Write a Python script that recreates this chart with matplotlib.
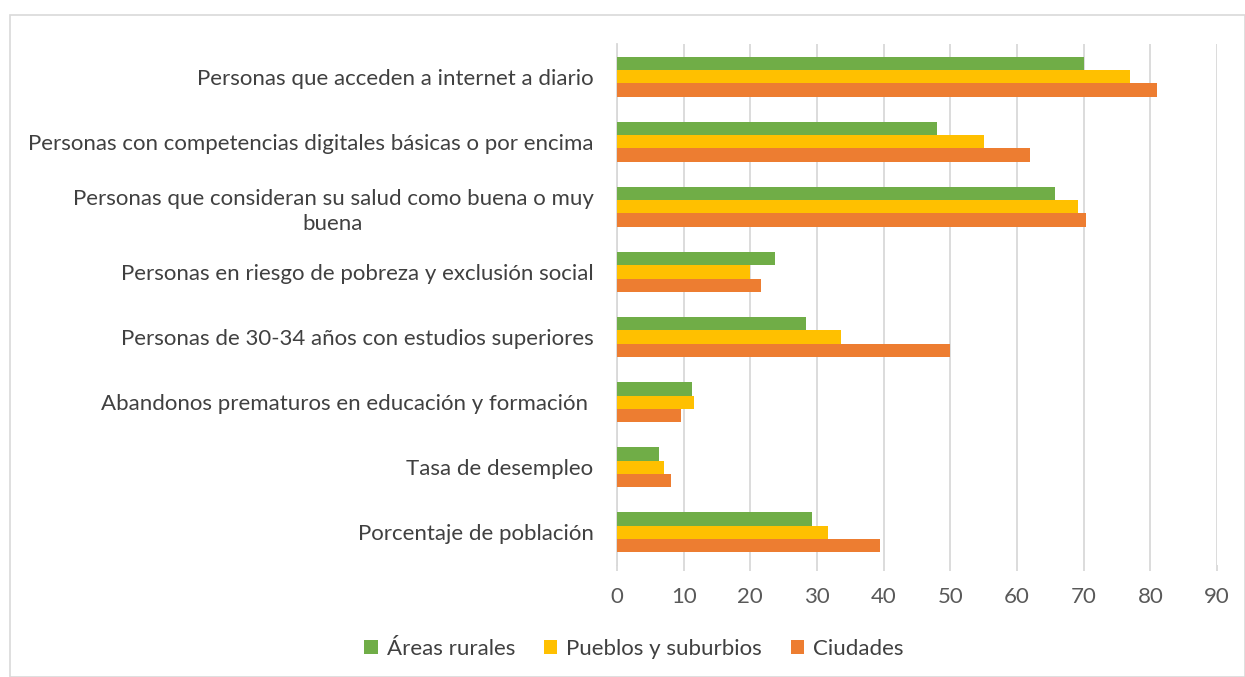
import numpy as np
import matplotlib.pyplot as plt
from matplotlib.patches import Rectangle

plt.rcParams['font.family'] = ['Lato', 'DejaVu Sans']

categories = [
    "Personas que acceden a internet a diario",
    "Personas con competencias digitales básicas o por encima",
    "Personas que consideran su salud como buena o muy\nbuena",
    "Personas en riesgo de pobreza y exclusión social",
    "Personas de 30-34 años con estudios superiores",
    "Abandonos prematuros en educación y formación ",
    "Tasa de desempleo",
    "Porcentaje de población",
]
rurales = [70, 48, 65.7, 23.7, 28.4, 11.2, 6.3, 29.2]
pueblos = [77, 55, 69.2, 20, 33.6, 11.5, 7.1, 31.7]
ciudades = [81, 62, 70.3, 21.6, 50, 9.6, 8.1, 39.4]

series = [("Áreas rurales", rurales, "#70AD47"),
          ("Pueblos y suburbios", pueblos, "#FFC000"),
          ("Ciudades", ciudades, "#ED7D31")]

fig = plt.figure(figsize=(12.45, 6.77), dpi=100)
fig.patches.append(Rectangle((10 / 1245, 0), 1 - 10 / 1245, 1 - 15 / 677,
                             transform=fig.transFigure, fill=False,
                             edgecolor="#d9d9d9", linewidth=1.2))
ax = fig.add_axes([617 / 1245, 112 / 677, 600 / 1245, 521 / 677])

y = np.arange(len(categories))
h = 0.205
for i, (name, vals, col) in enumerate(series):
    ax.barh(y + (i - 1) * h, vals, height=h, color=col, label=name, zorder=3)

ax.set_xlim(0, 90)
ax.set_ylim(len(categories) - 0.5, -0.5)
ax.set_xticks(np.arange(0, 91, 10))
ax.set_yticks(y)
ax.set_yticklabels(categories, multialignment="center", linespacing=1.3)
ax.xaxis.grid(True, color="#d9d9d9", linewidth=1.3, zorder=0)
for s in ["top", "right", "bottom"]:
    ax.spines[s].set_visible(False)
ax.spines["left"].set_color("#d9d9d9")
ax.spines["left"].set_linewidth(1.3)
ax.tick_params(axis="y", length=0, pad=17, labelsize=16, labelcolor="#404040")
ax.tick_params(axis="x", length=4, color="#d9d9d9", width=1.3, pad=12,
               labelsize=16, labelcolor="#595959")

ax.legend(loc="center", bbox_to_anchor=(634 / 1245, 28 / 677),
          bbox_transform=fig.transFigure, ncol=3, frameon=False,
          fontsize=16, labelcolor="#404040", handlelength=0.6, handleheight=0.6,
          handletextpad=0.4, columnspacing=1.3)

fig.savefig("out.png", dpi=100)
